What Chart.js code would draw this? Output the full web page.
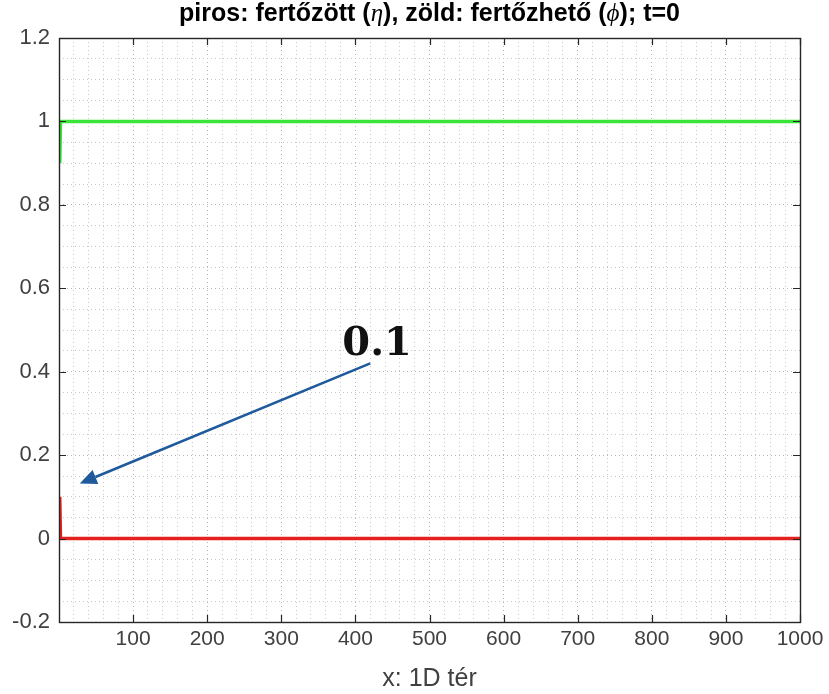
<!DOCTYPE html>
<html>
<head>
<meta charset="utf-8">
<script src="https://cdn.jsdelivr.net/npm/chart.js@4.4.0/dist/chart.umd.min.js"></script>
<style>
  html, body { margin: 0; padding: 0; background: #ffffff; }
  #wrap { width: 829px; height: 694px; }
</style>
</head>
<body>
<div id="wrap"><canvas id="plot" width="829" height="694"></canvas></div>
<script>
// x positions of the initial profile and the two fields
var xPos = [1, 2, 1000];
var susceptible = [0.9, 1, 1];   // zöld (phi)
var infected = [0.1, 0, 0];      // piros (eta)

var X_MIN = 0, X_MAX = 1000, X_MAJOR = 100, X_MINOR = 20;
var Y_MIN = -0.2, Y_MAX = 1.2, Y_MAJOR = 0.2, Y_MINOR = 0.05;

// annotation: label text and arrow, in data units
var noteText = "0.1";
var noteAt = [432, 0.465];
var arrowFrom = [420, 0.42];
var arrowTo = [28, 0.132];

var titleParts = [
    { t: "piros: fertőzött (", it: false },
    { t: "η", it: true },
    { t: "), zöld: fertőzhető (", it: false },
    { t: "ϕ", it: true },
    { t: "); t=0", it: false }
];

var AXIS_COLOR = "#262626";
var TICK_COLOR = "#404040";
var SANS = "'Liberation Sans', Arial, sans-serif";

function pts(ys) {
    var out = [];
    for (var i = 0; i < xPos.length; i++) out.push({ x: xPos[i], y: ys[i] });
    return out;
}

function isMajor(v, step) {
    var r = v / step;
    return Math.abs(r - Math.round(r)) < 1e-6;
}

// box, inward ticks, title and annotation
var decor = {
    id: 'decor',
    afterDraw: function (chart) {
        var ctx = chart.ctx;
        var a = chart.chartArea;
        var xs = chart.scales.x, ys = chart.scales.y;
        ctx.save();

        // box
        ctx.strokeStyle = AXIS_COLOR;
        ctx.lineWidth = 1.4;
        ctx.strokeRect(a.left + 0.5, a.top + 0.5, a.right - a.left, a.bottom - a.top);

        // inward ticks on all four sides
        var tl = 7;
        ctx.lineWidth = 1.2;
        ctx.beginPath();
        for (var v = X_MAJOR; v <= X_MAX; v += X_MAJOR) {
            var px = Math.round(xs.getPixelForValue(v)) + 0.5;
            ctx.moveTo(px, a.bottom); ctx.lineTo(px, a.bottom - tl);
            ctx.moveTo(px, a.top); ctx.lineTo(px, a.top + tl);
        }
        for (var k = 0; k <= 7; k++) {
            var yv = Y_MIN + k * Y_MAJOR;
            var py = Math.round(ys.getPixelForValue(yv)) + 0.5;
            ctx.moveTo(a.left, py); ctx.lineTo(a.left + tl, py);
            ctx.moveTo(a.right, py); ctx.lineTo(a.right - tl, py);
        }
        ctx.stroke();

        // title with italic greek symbols
        var bold = "bold 25px " + SANS;
        var ital = "italic 25px 'Liberation Serif', 'DejaVu Serif', serif";
        var total = 0;
        titleParts.forEach(function (p) {
            ctx.font = p.it ? ital : bold;
            p.w = ctx.measureText(p.t).width;
            total += p.w;
        });
        var cx = (a.left + a.right) / 2 - total / 2;
        ctx.fillStyle = "#000000";
        ctx.textBaseline = "alphabetic";
        ctx.textAlign = "left";
        titleParts.forEach(function (p) {
            ctx.font = p.it ? ital : bold;
            ctx.fillText(p.t, cx, 21);
            cx += p.w;
        });

        // arrow
        var x0 = xs.getPixelForValue(arrowFrom[0]), y0 = ys.getPixelForValue(arrowFrom[1]);
        var x1 = xs.getPixelForValue(arrowTo[0]), y1 = ys.getPixelForValue(arrowTo[1]);
        var ang = Math.atan2(y1 - y0, x1 - x0);
        var head = 17, half = 7.5;
        var bx = x1 - head * Math.cos(ang), by = y1 - head * Math.sin(ang);
        ctx.strokeStyle = "#1f5a9c";
        ctx.fillStyle = "#1f5a9c";
        ctx.lineWidth = 2.5;
        ctx.beginPath();
        ctx.moveTo(x0, y0); ctx.lineTo(bx, by);
        ctx.stroke();
        ctx.beginPath();
        ctx.moveTo(x1, y1);
        ctx.lineTo(bx + half * Math.sin(ang), by - half * Math.cos(ang));
        ctx.lineTo(bx - half * Math.sin(ang), by + half * Math.cos(ang));
        ctx.closePath();
        ctx.fill();

        // note
        ctx.font = "bold 40px 'DejaVu Serif', 'Liberation Serif', serif";
        ctx.fillStyle = "#111111";
        ctx.textAlign = "center";
        ctx.textBaseline = "middle";
        ctx.fillText(noteText, xs.getPixelForValue(noteAt[0]) - 2, ys.getPixelForValue(noteAt[1]));
        ctx.restore();
    }
};

var config = {
    type: 'line',
    data: {
        datasets: [
            {
                label: 'zöld',
                data: pts(susceptible),
                borderColor: '#38e538',
                borderWidth: 3.5,
                pointRadius: 0,
                tension: 0
            },
            {
                label: 'piros',
                data: pts(infected),
                borderColor: '#e3221f',
                borderWidth: 3.5,
                pointRadius: 0,
                tension: 0
            }
        ]
    },
    options: {
        responsive: false,
        animation: false,
        layout: { padding: { top: 38, right: 29, left: 0, bottom: 0 } },
        plugins: {
            legend: { display: false },
            title: { display: false },
            tooltip: { enabled: false }
        },
        scales: {
            x: {
                type: 'linear',
                min: X_MIN,
                max: X_MAX,
                afterFit: function (s) { s.height = 72; },
                border: { display: false, dash: [1, 3] },
                grid: {
                    drawTicks: false,
                    color: function (c) { return isMajor(c.tick.value, X_MAJOR) ? '#b4b4b4' : '#c8c8c8'; },
                    lineWidth: 1
                },
                ticks: {
                    stepSize: X_MINOR,
                    autoSkip: false,
                    maxRotation: 0,
                    padding: 5,
                    color: TICK_COLOR,
                    font: { family: SANS, size: 21 },
                    callback: function (v) { return (v > 0 && isMajor(v, X_MAJOR)) ? String(v) : ''; }
                },
                title: {
                    display: true,
                    text: 'x: 1D tér',
                    color: TICK_COLOR,
                    padding: { top: 6, bottom: 0 },
                    font: { family: SANS, size: 25 }
                }
            },
            y: {
                type: 'linear',
                min: Y_MIN,
                max: Y_MAX,
                afterFit: function (s) { s.width = 59; },
                border: { display: false, dash: [1, 3] },
                grid: {
                    drawTicks: false,
                    color: function (c) { return isMajor(c.tick.value, Y_MAJOR) ? '#b4b4b4' : '#c8c8c8'; },
                    lineWidth: 1
                },
                ticks: {
                    stepSize: Y_MINOR,
                    autoSkip: false,
                    padding: 9,
                    color: TICK_COLOR,
                    font: { family: SANS, size: 22 },
                    callback: function (v) {
                        if (!isMajor(v, Y_MAJOR)) return '';
                        var r = Math.round(v * 10) / 10;
                        return String(r);
                    }
                }
            }
        }
    },
    plugins: [decor]
};

window.addEventListener('DOMContentLoaded', function () {
    new Chart(document.getElementById('plot'), config);
});
</script>
</body>
</html>
